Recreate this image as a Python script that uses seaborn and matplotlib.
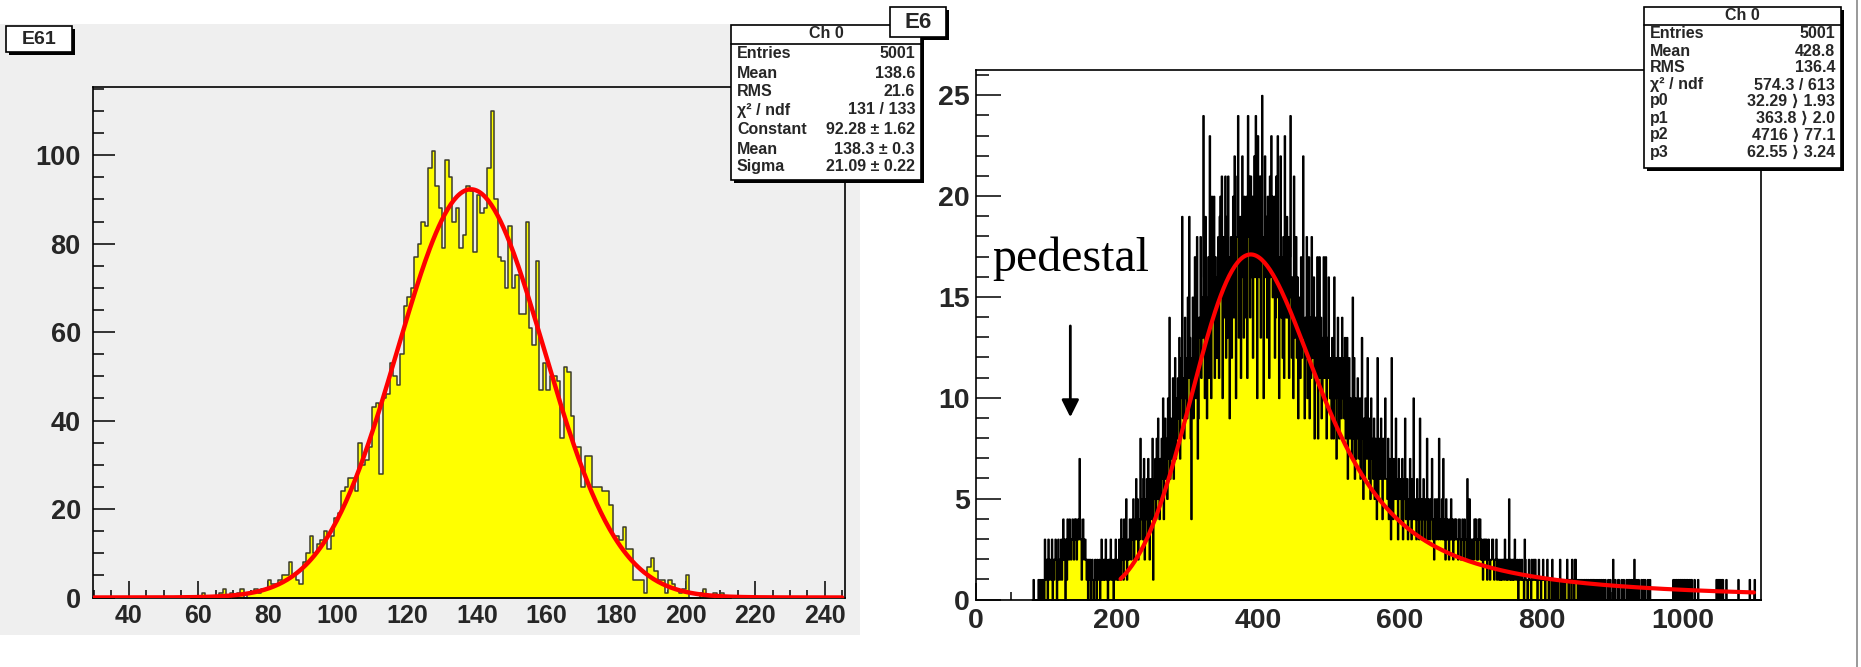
import numpy as np
import pandas as pd
import matplotlib
matplotlib.use("Agg")
import matplotlib.pyplot as plt
from matplotlib.patches import Rectangle
from matplotlib.lines import Line2D
from matplotlib.ticker import MultipleLocator
import seaborn as sns

# ---------------- data ----------------
left_title = "E61"
right_title = "E6"

left_start = 58          # lower edge of first listed bin, bin width 1
left_counts = [
    0, 0, 0, 1, 0, 0, 0, 0, 1, 2, 0, 1, 0, 1, 2, 0, 1, 1, 2, 1, 2, 2,
    4, 3, 3, 4, 5, 5, 8, 5, 4, 3,
    8, 10, 14, 10, 12, 13, 15, 11, 14, 18,
    19, 24, 25, 27, 27, 24, 35, 30, 31, 34,
    43, 44, 28, 45, 46, 53, 50, 48, 55, 66,
    68, 70, 77, 80, 85, 84, 97, 101, 93, 88,
    79, 99, 95, 85, 88, 79, 82, 93, 92, 78,
    91, 87, 88, 97, 110, 90, 77, 76, 70, 84,
    70, 73, 64, 64, 85, 61, 57, 76, 47, 53,
    47, 50, 50, 49, 36, 52, 51, 41, 34, 34,
    25, 32, 32, 25, 25, 25, 24, 24, 21, 14,
    14, 13, 16, 11, 11, 4, 4, 4, 1, 7,
    9, 6, 4, 4, 1, 4, 3, 2, 1, 2,
    5, 0, 0, 0, 1, 2, 0, 0, 1, 0, 1, 0, 0,
]

right_start = 80         # lower edge of first listed bin, bin width 1
right_counts = [
    0, 1, 0, 0, 0, 0, 0, 0, 1, 0, 1, 0, 0, 1, 1, 0, 0, 3, 1, 2,
    2, 0, 3, 1, 2, 2, 1, 3, 0, 2, 1, 2, 3, 2, 0, 1, 3, 2, 1, 2,
    3, 1, 2, 4, 2, 3, 0, 3, 1, 4, 3, 2, 4, 3, 2, 3, 4, 3, 2, 4,
    3, 4, 2, 3, 4, 3, 7, 4, 3, 1, 2, 4, 3, 2, 3, 2, 1, 2, 0, 2,
    1, 2, 0, 1, 2, 1, 0, 1, 2, 1, 0, 2, 1, 1, 2, 0, 1, 3, 1, 2,
    1, 2, 1, 3, 2, 1, 0, 2, 1, 2, 3, 1, 2, 1, 0, 2, 1, 3, 2, 1,
    2, 1, 3, 2, 1, 4, 2, 3, 1, 4, 2, 3, 5, 1, 2, 3, 2, 4, 3, 2,
    4, 3, 5, 2, 3, 4, 6, 3, 5, 2, 4, 3, 8, 4, 5, 3, 6, 7, 2, 5,
    4, 6, 3, 7, 5, 2, 6, 4, 5, 8, 1, 6, 5, 7, 4, 8, 5, 9, 6, 4,
    7, 5, 8, 6, 10, 4, 7, 9, 6, 8, 5, 10, 7, 14, 6, 9, 8, 7, 11, 6,
    9, 12, 7, 10, 8, 11, 9, 13, 7, 10, 12, 19, 9, 11, 8, 14, 10, 12, 9, 15,
    11, 19, 13, 8, 4, 12, 15, 9, 14, 17, 10, 13, 18, 7, 9, 14, 13, 18, 11, 15,
    13, 24, 16, 10, 19, 15, 9, 14, 17, 11, 23, 16, 10, 20, 14, 15, 20, 11, 17, 12,
    16, 12, 18, 11, 19, 20, 15, 21, 10, 18, 14, 16, 21, 12, 19, 13, 21, 17, 9, 14,
    18, 12, 17, 20, 14, 22, 16, 10, 18, 21, 24, 13, 17, 19, 11, 18, 22, 16, 13, 20,
    19, 14, 20, 11, 24, 18, 21, 14, 21, 16, 20, 12, 18, 22, 16, 24, 19, 10, 23, 18,
    16, 21, 13, 21, 25, 17, 10, 18, 22, 16, 19, 13, 20, 18, 11, 21, 16, 23, 20, 15,
    17, 20, 12, 14, 21, 15, 23, 17, 10, 16, 22, 14, 17, 12, 18, 11, 23, 16, 14, 19,
    14, 18, 11, 17, 24, 15, 12, 16, 10, 21, 13, 15, 18, 12, 16, 9, 15, 13, 11, 17,
    12, 15, 22, 13, 9, 14, 12, 18, 10, 13, 17, 9, 14, 11, 18, 12, 13, 16, 8, 14,
    11, 13, 17, 8, 12, 17, 11, 14, 9, 10, 13, 17, 11, 12, 17, 8, 13, 11, 16, 12,
    10, 12, 8, 13, 11, 8, 16, 10, 12, 7, 11, 14, 10, 8, 12, 11, 9, 14, 10, 12,
    9, 13, 8, 10, 13, 6, 9, 12, 8, 10, 9, 7, 15, 8, 12, 6, 10, 7, 9, 11,
    8, 7, 10, 6, 9, 13, 8, 5, 9, 6, 10, 8, 7, 12, 8, 6, 9, 5, 10, 8,
    7, 6, 9, 5, 8, 7, 4, 12, 5, 7, 8, 6, 9, 7, 4, 8, 6, 7, 10, 6,
    6, 5, 8, 4, 7, 6, 3, 12, 6, 4, 7, 5, 6, 9, 5, 6, 3, 7, 5, 6,
    5, 4, 7, 3, 6, 5, 9, 4, 5, 6, 3, 5, 4, 7, 5, 3, 6, 4, 10, 4,
    4, 5, 3, 6, 4, 5, 3, 9, 4, 5, 3, 4, 6, 4, 3, 5, 4, 8, 3, 5,
    4, 3, 5, 4, 7, 3, 4, 2, 5, 4, 3, 5, 4, 3, 8, 4, 3, 4, 5, 3,
    7, 3, 4, 2, 5, 3, 4, 3, 2, 4, 3, 5, 3, 4, 2, 3, 4, 3, 4, 3,
    3, 2, 4, 4, 3, 2, 3, 4, 3, 2, 4, 3, 3, 2, 6, 3, 2, 5, 3, 2,
    3, 2, 3, 2, 4, 3, 4, 2, 3, 2, 4, 3, 4, 2, 3, 2, 1, 3, 2, 3,
    2, 3, 1, 2, 3, 2, 1, 2, 2, 3, 3, 2, 1, 2, 2, 3, 1, 2, 2, 1,
    2, 1, 2, 1, 2, 2, 1, 3, 2, 1, 2, 1, 2, 5, 1, 2, 1, 2, 1, 2,
    1, 3, 2, 1, 1, 2, 0, 1, 2, 1, 1, 2, 1, 1, 0, 3, 2, 1, 1, 0,
    1, 2, 1, 1, 0, 2, 1, 1, 2, 1, 2, 1, 1, 0, 1, 2, 1, 1, 0, 1,
    1, 2, 1, 1, 0, 1, 1, 2, 1, 0, 1, 1, 1, 0, 2, 1, 0, 1, 1, 0,
    1, 1, 0, 1, 1, 2, 0, 1, 1, 0, 1, 1, 0, 1, 1, 2, 1, 0, 1, 1,
    1, 0, 2, 1, 1, 0, 2, 2, 1, 1, 0, 1, 1, 0, 1, 1, 0, 1, 0, 1,
    1, 0, 1, 1, 0, 1, 0, 0, 1, 1, 0, 1, 1, 0, 1, 0, 0, 1, 0, 0,
    1, 0, 0, 1, 0, 0, 1, 0, 0, 1, 0, 0, 0, 1, 0, 0, 1, 0, 0, 0,
    2, 0, 0, 1, 0, 0, 0, 1, 1, 0, 0, 0, 1, 0, 0, 1, 0, 0, 0, 1,
    0, 1, 0, 1, 0, 0, 1, 0, 0, 1, 2, 0, 0, 1, 0, 0, 1, 0, 0, 0,
    1, 0, 0, 1, 0, 1, 0, 0, 0, 1, 0, 0, 1, 0, 0, 0, 0, 0, 0, 0,
    0, 0, 0, 0, 0, 0, 0, 0, 0, 0, 0, 0, 0, 0, 0, 0, 0, 0, 0, 0,
    0, 0, 0, 0, 0, 1, 0, 1, 0, 1, 1, 0, 1, 1, 0, 1, 1, 0, 1, 0,
    1, 1, 0, 1, 0, 1, 0, 0, 1, 0, 1, 1, 0, 0, 0, 1, 0, 0, 0, 0,
    1, 0, 0, 0, 0, 0, 0, 0, 0, 0, 0, 0, 0, 0, 0, 0, 0, 0, 0, 0,
    0, 0, 0, 0, 0, 0, 1, 1, 0, 1, 1, 0, 1, 0, 1, 1, 0, 0, 0, 0,
    1, 0, 0, 0, 0, 0, 0, 0, 0, 0, 0, 0, 0, 0, 0, 0, 0, 1, 0, 0,
    0, 0, 0, 0, 0, 0, 0, 0, 0, 0, 0, 0, 0, 1, 0, 0, 0, 0, 0, 0,
    1, 0, 0, 0, 0, 0, 0, 0, 0, 0,
]

left_stats = [("Entries", "5001"), ("Mean", "138.6"), ("RMS", "21.6"),
              ("\u03c7\u00b2 / ndf", "131 / 133"), ("Constant", "92.28 \u00b1 1.62"),
              ("Mean", "138.3 \u00b1 0.3"), ("Sigma", "21.09 \u00b1 0.22")]
right_stats = [("Entries", "5001"), ("Mean", "428.8"), ("RMS", "136.4"),
               ("\u03c7\u00b2 / ndf", "574.3 / 613"), ("p0", "32.29 \u27e9 1.93"),
               ("p1", "363.8 \u27e9 2.0"), ("p2", "4716 \u27e9 77.1"),
               ("p3", "62.55 \u27e9 3.24")]

# fit parameters (from the stats boxes)
gaus_const, gaus_mean, gaus_sigma = 92.28, 138.3, 21.09
lg_width, lg_mpv, lg_area, lg_gsigma = 32.29, 363.8, 4716.0, 62.55
right_fit_range = (205, 1100)

annot_text = "pedestal"

# ---------------- helpers ----------------
W, H = 1861, 667


def fx(px):
    return px / W


def fy(py):
    return 1 - py / H


def landau_std(lam):
    t = np.linspace(1e-7, 25, 6000)
    tl = t * np.log(t)
    damp = np.exp(-np.pi / 2 * t)
    out = np.empty(len(lam))
    for i0 in range(0, len(lam), 200):
        l = lam[i0:i0 + 200]
        integ = damp[None, :] * np.cos(tl[None, :] + l[:, None] * t[None, :])
        out[i0:i0 + 200] = np.trapezoid(integ, t, axis=1) / np.pi
    return np.clip(out, 0, None)


def langaus(x, width, mpv, area, gsig):
    mpc = mpv + 0.22278298 * width
    xx = np.arange(-300.0, 1700.0, 1.0)
    lan = landau_std((xx - mpc) / width) / width
    g = np.exp(-0.5 * ((x[:, None] - xx[None, :]) / gsig) ** 2) / (np.sqrt(2 * np.pi) * gsig)
    return area * (g * lan[None, :]).sum(axis=1)


sns.set_theme(style="white")
plt.rcParams["font.family"] = ["Liberation Sans", "DejaVu Sans", "Noto Sans CJK JP"]

fig = plt.figure(figsize=(W / 100, H / 100), dpi=100)
fig.patch.set_facecolor("white")

# left pad background
fig.add_artist(Rectangle((0, fy(635)), fx(860), (635 - 24) / H, transform=fig.transFigure,
                         facecolor="#efefef", edgecolor="none", zorder=-5))

axL = fig.add_axes([fx(92.6), fy(597.5), fx(845 - 92.6), (597.5 - 86.6) / H])
axR = fig.add_axes([fx(975.5), fy(599.5), fx(1761 - 975.5), (599.5 - 70) / H])
axL.set_facecolor("#efefef")
axR.set_facecolor("white")

# ---- left histogram ----
lc = np.array(left_counts, float)
le = np.arange(left_start, left_start + len(lc) + 1, 1.0)
dfL = pd.DataFrame({"x": le[:-1] + 0.5, "w": lc})
sns.histplot(data=dfL, x="x", weights="w", bins=list(le), element="step", fill=True,
             color="#ffff00", alpha=1, edgecolor="#3c3c2c", linewidth=1.1, ax=axL)
xg = np.linspace(30, 245, 500)
yg = gaus_const * np.exp(-0.5 * ((xg - gaus_mean) / gaus_sigma) ** 2)
sns.lineplot(x=xg, y=yg, color="#ff0000", linewidth=3.2, ax=axL, zorder=5)
axL.set_xlim(29.6, 245.8)
axL.set_ylim(0, 115.5)

# ---- right histogram ----
rc = np.array(right_counts, float)
re_ = np.arange(right_start, right_start + len(rc) + 1, 1.0)
dfR = pd.DataFrame({"x": re_[:-1] + 0.5, "w": rc})
sns.histplot(data=dfR, x="x", weights="w", bins=list(re_), element="step", fill=True,
             color="#ffff00", alpha=1, edgecolor="black", linewidth=1.3, ax=axR)
xf = np.linspace(right_fit_range[0], right_fit_range[1], 450)
yf = langaus(xf, lg_width, lg_mpv, lg_area, lg_gsigma)
sns.lineplot(x=xf, y=yf, color="#ff0000", linewidth=3.0, ax=axR, zorder=5)
axR.set_xlim(0, 1110)
axR.set_ylim(0, 26.25)

axR.annotate("", xy=(134, 8.9), xytext=(134, 13.7),
             arrowprops=dict(arrowstyle="-|>", color="black", lw=2, mutation_scale=26),
             zorder=6)
axR.text(24, 16.3, annot_text, family=["Liberation Serif", "DejaVu Serif"], fontsize=34.5,
         va="baseline", ha="left", color="black", zorder=6)

# ---- axis styling ----
for ax in (axL, axR):
    ax.set_xlabel("")
    ax.set_ylabel("")
    for s in ax.spines.values():
        s.set_color("black")
        s.set_linewidth(1.2)
        s.set_visible(True)
    ax.tick_params(which="both", direction="in", color="black", top=False, right=False,
                   bottom=True, left=True, width=1.1)
    ax.grid(False)

axL.set_xticks(np.arange(40, 241, 20))
axL.xaxis.set_minor_locator(MultipleLocator(5))
axL.set_yticks(np.arange(0, 101, 20))
axL.yaxis.set_minor_locator(MultipleLocator(5))
axL.tick_params(axis="x", which="major", length=12, pad=5)
axL.tick_params(axis="x", which="minor", length=6)
axL.tick_params(axis="y", which="major", length=16, pad=8.5)
axL.tick_params(axis="y", which="minor", length=8)

axR.set_xticks(np.arange(0, 1001, 200))
axR.xaxis.set_minor_locator(MultipleLocator(50))
axR.set_yticks(np.arange(0, 26, 5))
axR.yaxis.set_minor_locator(MultipleLocator(1))
axR.tick_params(axis="x", which="major", length=12, pad=6)
axR.tick_params(axis="x", which="minor", length=6)
axR.tick_params(axis="y", which="major", length=18, pad=4)
axR.tick_params(axis="y", which="minor", length=9)

for lab in axL.get_xticklabels():
    lab.set_fontweight("bold")
    lab.set_fontsize(18)
for lab in axL.get_yticklabels():
    lab.set_fontweight("bold")
    lab.set_fontsize(19.5)
for lab in axR.get_xticklabels() + axR.get_yticklabels():
    lab.set_fontweight("bold")
    lab.set_fontsize(20.5)


# ---- boxes ----
def box(x0, y0, x1, y1, shadow=4, lw=1.2, z=10):
    fig.add_artist(Rectangle((fx(x0 + shadow), fy(y1 + shadow)), fx(x1 - x0), (y1 - y0) / H,
                             transform=fig.transFigure, facecolor="black", edgecolor="none",
                             zorder=z))
    fig.add_artist(Rectangle((fx(x0), fy(y1)), fx(x1 - x0), (y1 - y0) / H,
                             transform=fig.transFigure, facecolor="white", edgecolor="black",
                             linewidth=lw, zorder=z + 1))


def stats_box(x0, y0, x1, y1, title_y, line_y, rows_y, rows, fs):
    box(x0, y0, x1, y1, shadow=3)
    fig.add_artist(Line2D([fx(x0), fx(x1)], [fy(line_y), fy(line_y)], transform=fig.transFigure,
                          color="black", linewidth=1.2, zorder=12))
    fig.text(fx((x0 + x1) / 2), fy(title_y), "Ch 0", ha="center", va="center",
             fontsize=fs, fontweight="bold", zorder=13)
    for (lab, val), ry in zip(rows, rows_y):
        fig.text(fx(x0 + 6), fy(ry), lab, ha="left", va="center", fontsize=fs,
                 fontweight="bold", zorder=13)
        fig.text(fx(x1 - 6), fy(ry), val, ha="right", va="center", fontsize=fs,
                 fontweight="bold", zorder=13)


stats_box(731, 25, 921, 180, 34, 44, [54, 73, 91.5, 110, 129.5, 149, 167], left_stats, 11.5)
stats_box(1644, 7, 1841, 168, 16, 25, [34, 51, 68, 85, 101, 118, 135, 152], right_stats, 11.5)

# title boxes
box(6, 26, 72, 52, shadow=3)
fig.text(fx(39), fy(39), left_title, ha="center", va="center", fontsize=14,
         fontweight="bold", zorder=13)
box(890, 7, 946, 37, shadow=3)
fig.text(fx(918), fy(28), right_title, ha="center", va="baseline", fontsize=16,
         fontweight="bold", zorder=13)

# right pad edge
fig.add_artist(Line2D([fx(1857), fx(1857)], [0, 1], transform=fig.transFigure,
                      color="#888888", linewidth=1.2, zorder=1))

fig.savefig("out.png", dpi=100, facecolor="white")
